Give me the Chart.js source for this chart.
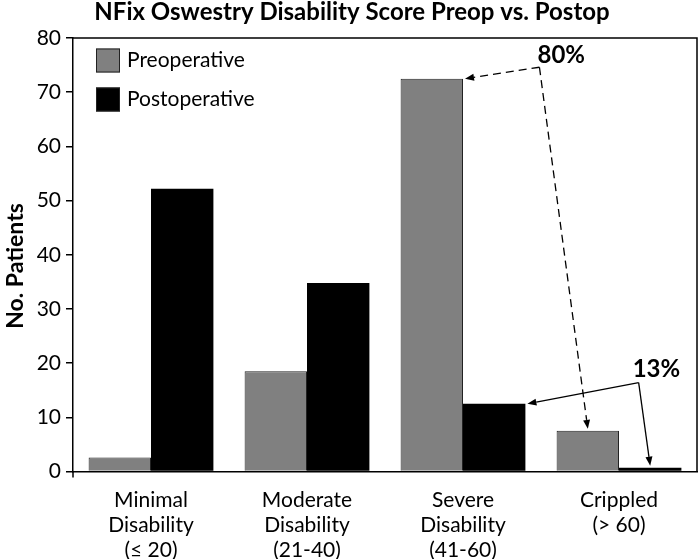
<!DOCTYPE html>
<html lang="en">
<head>
<meta charset="UTF-8">
<title>NFix Oswestry Disability Score</title>
<script src="https://cdn.jsdelivr.net/npm/chart.js@4.4.1/dist/chart.umd.min.js"></script>
<style>
    html, body { margin: 0; padding: 0; background: #fff; }
    .wrap { width: 700px; height: 559px; }
</style>
</head>
<body>
<div class="wrap"><canvas id="oswChart"></canvas></div>
<script>
// data
const categories = [
    ['Minimal', 'Disability', '(≤ 20)'],
    ['Moderate', 'Disability', '(21-40)'],
    ['Severe', 'Disability', '(41-60)'],
    ['Crippled', '(> 60)']
];
const seriesNames = ['Preoperative', 'Postoperative'];
const preopValues = [2.6, 18.5, 72.5, 7.5];
const postopValues = [52.2, 34.8, 12.5, 0.7];
const yTicks = [0, 10, 20, 30, 40, 50, 60, 70, 80];
const chartTitle = 'NFix Oswestry Disability Score Preop vs. Postop';
const yTitle = 'No. Patients';
// callout label -> [dataset, bar index, where the arrow lands]
const callouts = [
    { text: '80%', dashed: true,  targets: [[0, 2, 'corner'], [0, 3, 'top']] },
    { text: '13%', dashed: false, targets: [[1, 2, 'corner'], [1, 3, 'top']] }
];

const FONT = "Lato, 'Noto Sans', sans-serif";
Chart.defaults.font.family = FONT;
Chart.defaults.color = '#000';

// where the callout text / arrow start sit, in axis units
const calloutPlace = [
    { label: [2.63, 76.8], origin: [2.49, 74.6] },
    { label: [3.24, 18.9], origin: [3.126, 16.4] }
];

function drawArrow(ctx, x0, y0, x1, y1, dashed) {
    const ang = Math.atan2(y1 - y0, x1 - x0);
    const head = 9, half = 3.5;
    const bx = x1 - head * Math.cos(ang), by = y1 - head * Math.sin(ang);
    ctx.setLineDash(dashed ? [8, 5] : []);
    ctx.beginPath();
    ctx.moveTo(x0, y0);
    ctx.lineTo(bx, by);
    ctx.stroke();
    ctx.setLineDash([]);
    ctx.beginPath();
    ctx.moveTo(x1, y1);
    ctx.lineTo(bx - half * Math.sin(ang), by + half * Math.cos(ang));
    ctx.lineTo(bx + half * Math.sin(ang), by - half * Math.cos(ang));
    ctx.closePath();
    ctx.fill();
}

const extras = {
    id: 'extras',
    afterDraw(chart) {
        const { ctx, chartArea: a, scales: { x, y } } = chart;
        ctx.save();
        ctx.strokeStyle = '#000';
        ctx.fillStyle = '#000';

        // box round the plot (top + right), and the stub below the y axis
        ctx.lineWidth = 1.5;
        ctx.beginPath();
        ctx.moveTo(a.left, a.top);
        ctx.lineTo(a.right, a.top);
        ctx.lineTo(a.right, a.bottom);
        ctx.stroke();
        ctx.beginPath();
        ctx.moveTo(a.left, a.bottom);
        ctx.lineTo(a.left, a.bottom + 6);
        ctx.stroke();

        // title
        ctx.font = 'bold 24px ' + FONT;
        ctx.textAlign = 'center';
        ctx.textBaseline = 'alphabetic';
        ctx.fillText(chartTitle, 352, 20);

        // y axis title
        ctx.save();
        ctx.translate(16, 266);
        ctx.rotate(-Math.PI / 2);
        ctx.textBaseline = 'middle';
        ctx.font = 'bold 23px ' + FONT;
        ctx.fillText(yTitle, 0, 0);
        ctx.restore();

        // legend inside the plot
        ctx.font = '21px ' + FONT;
        ctx.textAlign = 'left';
        ctx.textBaseline = 'middle';
        chart.data.datasets.forEach((ds, i) => {
            const sx = a.left + 23, sy = a.top + 10.5 + i * 39;
            ctx.fillStyle = ds.backgroundColor;
            ctx.fillRect(sx, sy, 24, 24);
            ctx.lineWidth = 1;
            ctx.strokeStyle = '#222';
            ctx.strokeRect(sx + 0.5, sy + 0.5, 23, 23);
            ctx.fillStyle = '#000';
            ctx.fillText(ds.label, sx + 31, sy + 12);
        });

        // callouts with arrows
        ctx.lineWidth = 1.3;
        ctx.strokeStyle = '#000';
        callouts.forEach((c, i) => {
            const p = calloutPlace[i];
            ctx.font = 'bold 24px ' + FONT;
            ctx.textAlign = 'center';
            ctx.textBaseline = 'middle';
            ctx.fillText(c.text, x.getPixelForValue(p.label[0]), y.getPixelForValue(p.label[1]));
            const ox = x.getPixelForValue(p.origin[0]), oy = y.getPixelForValue(p.origin[1]);
            c.targets.forEach(([d, j, where]) => {
                const el = chart.getDatasetMeta(d).data[j];
                const tx = where === 'corner' ? el.x + el.width / 2 + 2 : el.x;
                const ty = where === 'corner' ? el.y : el.y - 2;
                drawArrow(ctx, ox, oy, tx, ty, c.dashed);
            });
        });
        ctx.restore();
    }
};

new Chart(document.getElementById('oswChart'), {
    type: 'bar',
    data: {
        labels: categories,
        datasets: [
            {
                label: seriesNames[0],
                data: preopValues,
                backgroundColor: '#808080',
                borderColor: '#222',
                borderWidth: 1
            },
            {
                label: seriesNames[1],
                data: postopValues,
                backgroundColor: '#000',
                borderColor: '#000',
                borderWidth: 0
            }
        ]
    },
    options: {
        responsive: true,
        maintainAspectRatio: false,
        animation: false,
        layout: { padding: { top: 38, right: 3, left: 0, bottom: 0 } },
        datasets: { bar: { categoryPercentage: 0.8, barPercentage: 1.0 } },
        plugins: {
            legend: { display: false },
            title: { display: false },
            tooltip: { enabled: false }
        },
        scales: {
            x: {
                afterFit: s => { s.height = 87.5; },
                grid: { display: false, drawTicks: false },
                border: { display: true, color: '#000', width: 1.5 },
                ticks: { font: { size: 21, lineHeight: 1.2 }, color: '#000', padding: 16, maxRotation: 0 }
            },
            y: {
                min: yTicks[0],
                max: yTicks[yTicks.length - 1],
                afterFit: s => { s.width = 73; },
                afterBuildTicks: s => { s.ticks = yTicks.map(v => ({ value: v })); },
                grid: { drawOnChartArea: false, drawTicks: true, tickLength: 7, color: '#000', lineWidth: 1.5 },
                border: { display: true, color: '#000', width: 1.5 },
                ticks: { font: { size: 21 }, color: '#000', padding: 5 }
            }
        }
    },
    plugins: [extras]
});
</script>
</body>
</html>
